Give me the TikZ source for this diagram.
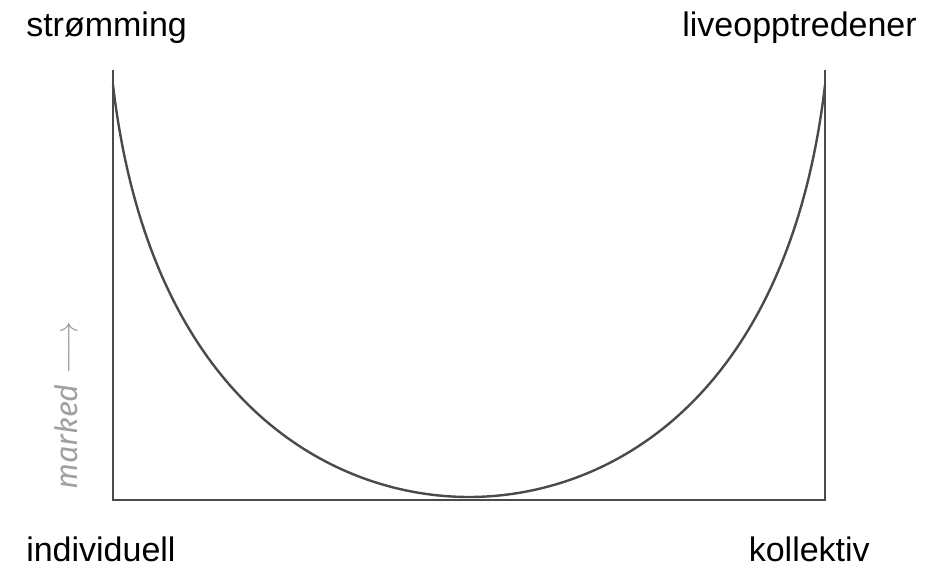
\documentclass[tikz,border=0pt]{standalone}
\usepackage{fontspec}
\setmainfont{Liberation Sans}
\newfontfamily\thinfont{Fira Sans}
\definecolor{lnGray}{HTML}{4A4A4A}
\definecolor{lbGray}{HTML}{A0A0A0}
\usetikzlibrary{positioning}

\begin{document}
\begin{tikzpicture}[
  x=0.75pt,y=0.75pt,
  every node/.style={inner sep=0pt,font=\fontsize{25.5}{30}\selectfont},
  frameline/.style={draw=lnGray,line width=1.9pt},
  curveline/.style={draw=lnGray,line width=1.8pt},
]
  \useasboundingbox (0,0) rectangle (945,567);

  % Frame corners
  \coordinate (tl) at (113,497);
  \coordinate (bl) at (113,67);
  \coordinate (br) at (825,67);
  \coordinate (tr) at (825,497);
  \draw[frameline] (tl) -- (bl) -- (br) -- (tr);

  % U-curve
  \coordinate (cl) at (113,482);
  \coordinate (cm) at (469,70);
  \coordinate (cr) at (825,482);
  \draw[curveline] (cl) .. controls (150,167) and (330,70) .. (cm)
                        .. controls (608,70) and (788,167) .. (cr);

  % Corner labels
  \node[anchor=base west] (strom) at (26,530) {strømming};
  \node[anchor=base east] (live) at (917,530) {liveopptredener};
  \node[anchor=base west] (indiv) at (26,6) {individuell};
  \node[anchor=base east] (koll) at (870,6) {kollektiv};

  % Axis label
  \node[anchor=base west,rotate=90,text=lbGray,
        font=\thinfont\itshape\fontsize{23}{26}\selectfont] (mark) at (77,77)
    {marked\hspace{0.3em}$\longrightarrow$};
\end{tikzpicture}
\end{document}
